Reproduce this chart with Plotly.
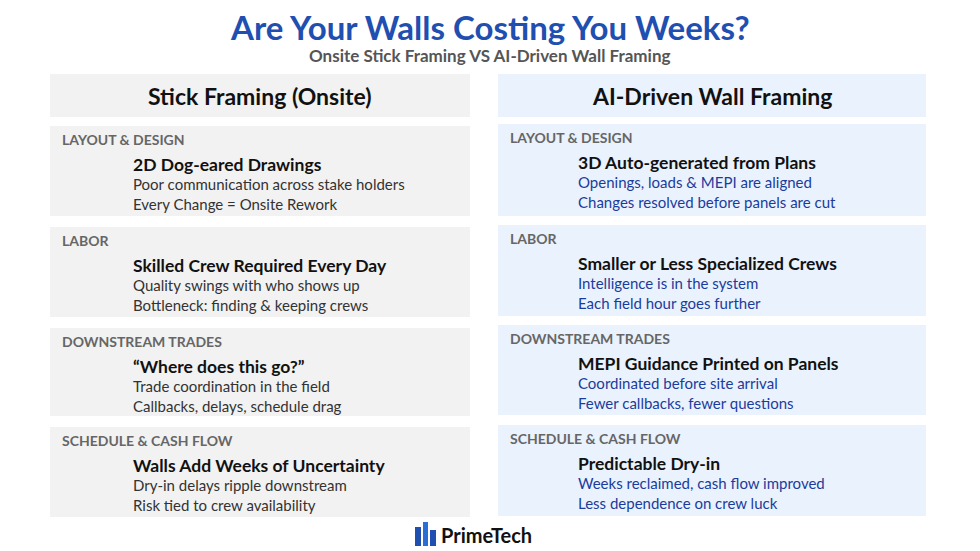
import plotly.graph_objects as go

title = "Are Your Walls Costing You Weeks?"
subtitle = "Onsite Stick Framing VS AI-Driven Wall Framing"
col_heads = ["Stick Framing (Onsite)", "AI-Driven Wall Framing"]
categories = ["LAYOUT & DESIGN", "LABOR", "DOWNSTREAM TRADES", "SCHEDULE & CASH FLOW"]
left_titles = ["2D Dog-eared Drawings", "Skilled Crew Required Every Day",
               "\u201cWhere does this go?\u201d", "Walls Add Weeks of Uncertainty"]
left_lines = [["Poor communication across stake holders", "Every Change = Onsite Rework"],
              ["Quality swings with who shows up", "Bottleneck: finding & keeping crews"],
              ["Trade coordination in the field", "Callbacks, delays, schedule drag"],
              ["Dry-in delays ripple downstream", "Risk tied to crew availability"]]
right_titles = ["3D Auto-generated from Plans", "Smaller or Less Specialized Crews",
                "MEPI Guidance Printed on Panels", "Predictable Dry-in"]
right_lines = [["Openings, loads & MEPI are aligned", "Changes resolved before panels are cut"],
               ["Intelligence is in the system", "Each field hour goes further"],
               ["Coordinated before site arrival", "Fewer callbacks, fewer questions"],
               ["Weeks reclaimed, cash flow improved", "Less dependence on crew luck"]]

F = "Lato"
shapes, ann = [], []

def box(x0, x1, y0, y1, fill):
    shapes.append(dict(type="rect", x0=x0, x1=x1, y0=y0, y1=y1, fillcolor=fill,
                       line=dict(width=0), layer="below"))

def txt(x, y, s, size, color, bold=False, xanchor="left"):
    ann.append(dict(x=x, y=y, text=f"<b>{s}</b>" if bold else s, showarrow=False,
                    xanchor=xanchor, yanchor="middle", font=dict(family=F, size=size, color=color)))

txt(490, 27, title, 33, "#1f4fb0", True, "center")
txt(490, 55, subtitle, 17, "#555555", True, "center")

cols = [dict(x0=50, x1=470, fill="#f2f2f2", tx=131, titles=left_titles, lines=left_lines,
             lc="#333333", tops=[126, 227, 328, 427], bottoms=[216, 317, 416, 517]),
        dict(x0=498, x1=926, fill="#eaf2fd", tx=576, titles=right_titles, lines=right_lines,
             lc="#1a3c9c", tops=[124, 225, 325, 425], bottoms=[216, 316, 415, 516])]

for c, head in zip(cols, col_heads):
    box(c["x0"], c["x1"], 74, 117, c["fill"])
    txt((c["x0"] + c["x1"]) / 2, 96, head, 23, "#111111", True, "center")
    for i, cat in enumerate(categories):
        t = c["tops"][i]
        box(c["x0"], c["x1"], t, c["bottoms"][i], c["fill"])
        txt(c["x0"] + 10, t + 13, cat, 14, "#666666", True)
        txt(c["tx"], t + 38, c["titles"][i], 17.5, "#111111", True)
        txt(c["tx"], t + 58, c["lines"][i][0], 15, c["lc"])
        txt(c["tx"], t + 78, c["lines"][i][1], 15, c["lc"])

# logo
for x0, x1, y0, c in [(415, 421, 527, "#1f4fb0"), (423, 428, 522, "#2a6fd6"), (430, 436, 530, "#1f4fb0")]:
    shapes.append(dict(type="rect", x0=x0, x1=x1, y0=y0, y1=546, fillcolor=c, line=dict(width=0)))
txt(439, 535, "PrimeTech", 20, "#111111", True)

fig = go.Figure()
fig.update_layout(width=980, height=551, margin=dict(l=0, r=0, t=0, b=0),
                  paper_bgcolor="white", plot_bgcolor="white",
                  xaxis=dict(range=[0, 980], visible=False, fixedrange=True),
                  yaxis=dict(range=[551, 0], visible=False, fixedrange=True),
                  shapes=shapes, annotations=ann, showlegend=False)
fig.write_html("out.html", config={"displayModeBar": False},
               post_script="document.body.style.margin='0';document.body.style.overflow='hidden';")
